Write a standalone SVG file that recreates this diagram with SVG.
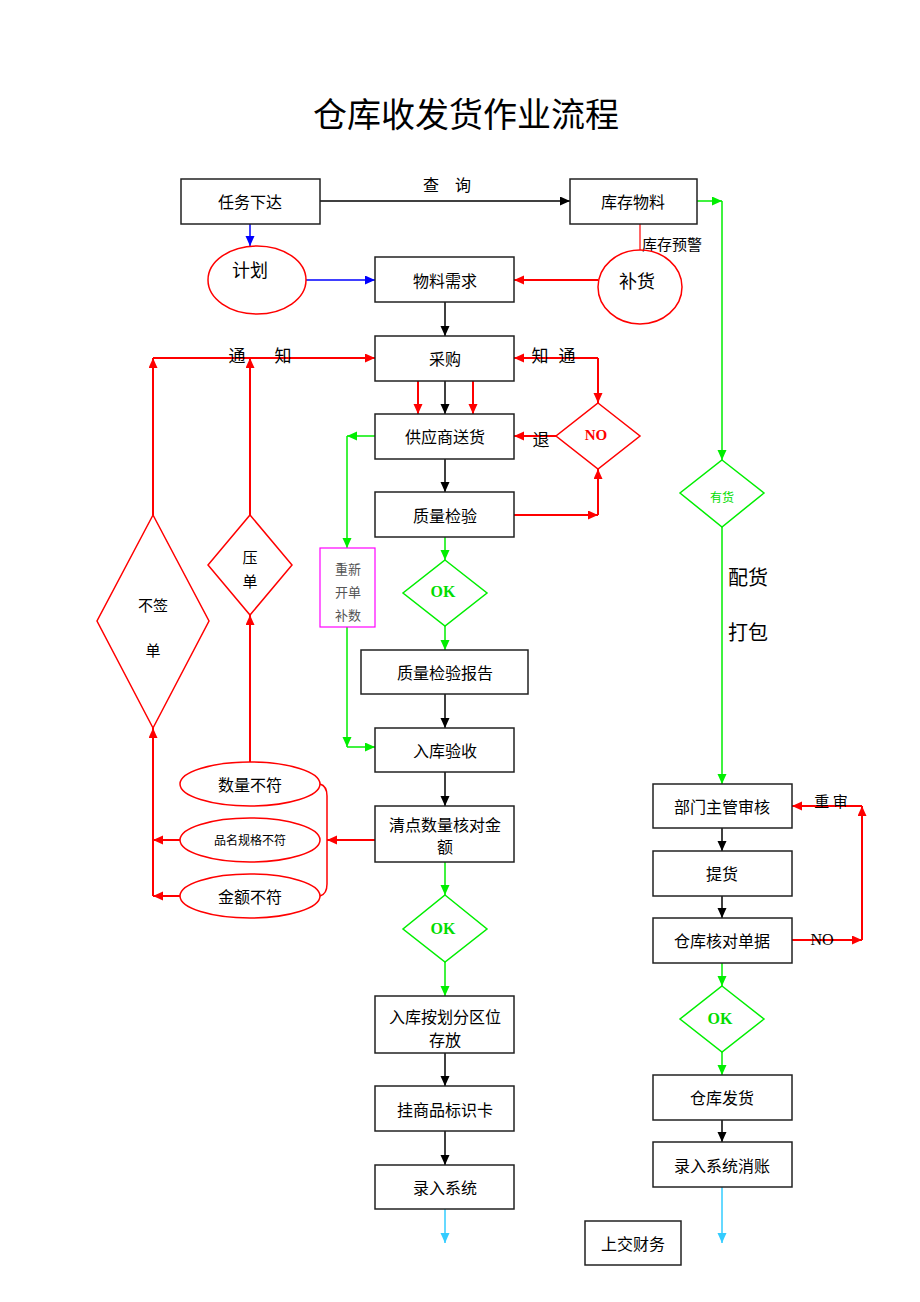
<svg xmlns="http://www.w3.org/2000/svg" width="920" height="1302" viewBox="0 0 920 1302">
<style>
text{font-family:"Noto Sans CJK SC","Noto Sans",sans-serif;fill:#000;text-anchor:middle;dominant-baseline:central}
.box{fill:#fff;stroke:#222;stroke-width:1.5}
.lbl{font-size:16px}
.rs{fill:none;stroke:#ff0000;stroke-width:1.5}
.gs{fill:none;stroke:#00ee00;stroke-width:1.5}
.k{fill:none;stroke:#000;stroke-width:1.5}
.r{fill:none;stroke:#ff0000;stroke-width:2}
.g{fill:none;stroke:#00ee00;stroke-width:1.5}
.b{fill:none;stroke:#0000ff;stroke-width:1.5}
.c{fill:none;stroke:#33ccff;stroke-width:1.5}
.ok{font-family:"Liberation Serif",serif;font-weight:bold;font-size:16px;fill:#00dd00}
</style>
<defs>
<marker id="ak" markerUnits="userSpaceOnUse" markerWidth="10" markerHeight="10" refX="10" refY="4.5" orient="auto"><path d="M0,0 L10,4.5 L0,9 z" fill="#000"/></marker>
<marker id="ar" markerUnits="userSpaceOnUse" markerWidth="10" markerHeight="10" refX="10" refY="4.5" orient="auto"><path d="M0,0 L10,4.5 L0,9 z" fill="#ff0000"/></marker>
<marker id="ag" markerUnits="userSpaceOnUse" markerWidth="10" markerHeight="10" refX="10" refY="4.5" orient="auto"><path d="M0,0 L10,4.5 L0,9 z" fill="#00ee00"/></marker>
<marker id="ab" markerUnits="userSpaceOnUse" markerWidth="10" markerHeight="10" refX="10" refY="4.5" orient="auto"><path d="M0,0 L10,4.5 L0,9 z" fill="#0000ff"/></marker>
<marker id="ac" markerUnits="userSpaceOnUse" markerWidth="10" markerHeight="10" refX="10" refY="4.5" orient="auto"><path d="M0,0 L10,4.5 L0,9 z" fill="#33ccff"/></marker>
</defs>
<rect width="920" height="1302" fill="#fff"/>
<text x="466" y="112" style="font-size:34px">仓库收发货作业流程</text>

<g id="connectors">
<path class="k" d="M320,201 H570" marker-end="url(#ak)"/>
<path class="k" d="M445,302 V336" marker-end="url(#ak)"/>
<path class="k" d="M445,381 V414" marker-end="url(#ak)"/>
<path class="k" d="M445,459 V492" marker-end="url(#ak)"/>
<path class="k" d="M445,694 V728" marker-end="url(#ak)"/>
<path class="k" d="M445,772 V806" marker-end="url(#ak)"/>
<path class="k" d="M445,1053 V1086" marker-end="url(#ak)"/>
<path class="k" d="M445,1131 V1165" marker-end="url(#ak)"/>
<path class="k" d="M722,828 V851" marker-end="url(#ak)"/>
<path class="k" d="M722,896 V918" marker-end="url(#ak)"/>
<path class="k" d="M722,1120 V1142" marker-end="url(#ak)"/>
<path class="b" d="M250,224 V246" marker-end="url(#ab)"/>
<path class="b" d="M306,280 H375" marker-end="url(#ab)"/>
<path class="r" d="M640,224 V250" style="stroke-width:1.2"/>
<path class="r" d="M598,280 H514" marker-end="url(#ar)"/>
<path class="r" d="M153,515 V358" marker-end="url(#ar)"/>
<path class="r" d="M153,358 H375" marker-end="url(#ar)"/>
<path class="r" d="M250,515 V358" marker-end="url(#ar)"/>
<path class="r" d="M598,358 H514" marker-end="url(#ar)"/>
<path class="r" d="M598,358 V403" marker-end="url(#ar)"/>
<path class="r" d="M556,436 H514" marker-end="url(#ar)"/>
<path class="r" d="M418,381 V414" marker-end="url(#ar)"/>
<path class="r" d="M473,381 V414" marker-end="url(#ar)"/>
<path class="r" d="M514,515 H598" marker-end="url(#ar)"/>
<path class="r" d="M598,515 V469" marker-end="url(#ar)"/>
<path class="r" d="M375,840 H327" marker-end="url(#ar)"/>
<path class="r" d="M180,840 H153" marker-end="url(#ar)"/>
<path class="r" d="M180,896 H153" marker-end="url(#ar)"/>
<path class="r" d="M153,896 V728" marker-end="url(#ar)"/>
<path class="r" d="M250,762 V615" marker-end="url(#ar)"/>
<path class="r" d="M320,784 Q327,786 327,796 V884 Q327,894 320,896" style="stroke-width:1.5"/>
<path class="r" d="M792,940 H862" marker-end="url(#ar)"/>
<path class="r" d="M862,940 V806" marker-end="url(#ar)"/>
<path class="r" d="M862,806 H792" marker-end="url(#ar)"/>
<path class="g" d="M697,201 H722" marker-end="url(#ag)"/>
<path class="g" d="M722,201 V460" marker-end="url(#ag)"/>
<path class="g" d="M722,527 V784" marker-end="url(#ag)"/>
<path class="g" d="M375,436 H347" marker-end="url(#ag)"/>
<path class="g" d="M347,436 V548" marker-end="url(#ag)"/>
<path class="g" d="M347,627 V747" marker-end="url(#ag)"/>
<path class="g" d="M347,747 H375" marker-end="url(#ag)"/>
<path class="g" d="M445,537 V560" marker-end="url(#ag)"/>
<path class="g" d="M445,626 V650" marker-end="url(#ag)"/>
<path class="g" d="M445,862 V895" marker-end="url(#ag)"/>
<path class="g" d="M445,962 V996" marker-end="url(#ag)"/>
<path class="g" d="M722,963 V986" marker-end="url(#ag)"/>
<path class="g" d="M722,1052 V1075" marker-end="url(#ag)"/>
<path class="c" d="M445,1209 V1243" marker-end="url(#ac)"/>
<path class="c" d="M722,1187 V1243" marker-end="url(#ac)"/>
<text x="447" y="184" style="font-size:16px">查　询</text>
<text x="672" y="243" style="font-size:15px">库存预警</text>
<text x="237" y="354" style="font-size:17px">通</text>
<text x="283" y="354" style="font-size:17px">知</text>
<text x="540" y="354" style="font-size:17px">知</text>
<text x="567" y="354" style="font-size:17px">通</text>
<text x="541" y="438" style="font-size:17px">退</text>
<text x="748" y="576" style="font-size:20px">配货</text>
<text x="748" y="631" style="font-size:20px">打包</text>
<text x="831" y="800" style="font-size:15px">重 审</text>
<text x="822" y="939" style="font-family:'Liberation Serif',serif;font-size:16px">NO</text>
</g>

<g id="n-renwu"><rect class="box" x="181" y="179" width="139" height="45"/><text class="lbl" x="250" y="201">任务下达</text></g>
<g id="n-kucun"><rect class="box" x="570" y="179" width="127" height="45"/><text class="lbl" x="633" y="201">库存物料</text></g>
<g id="n-jihua"><ellipse class="rs" cx="257" cy="280" rx="49" ry="34"/><text x="250" y="269" style="font-size:18px">计划</text></g>
<g id="n-buhuo"><ellipse class="rs" cx="640" cy="287" rx="42" ry="37"/><text x="637" y="280" style="font-size:18px">补货</text></g>
<g id="n-xuqiu"><rect class="box" x="375" y="257" width="139" height="45"/><text class="lbl" x="445" y="280">物料需求</text></g>
<g id="n-caigou"><rect class="box" x="375" y="336" width="139" height="45"/><text class="lbl" x="445" y="358">采购</text></g>
<g id="n-songhuo"><rect class="box" x="375" y="414" width="139" height="45"/><text class="lbl" x="445" y="436">供应商送货</text></g>
<g id="n-no1"><path class="rs" d="M598,403 L640,436 L598,469 L556,436 Z"/><text x="596" y="435" style="font-family:'Liberation Serif',serif;font-weight:bold;font-size:15px;fill:#ff0000">NO</text></g>
<g id="n-jianyan"><rect class="box" x="375" y="492" width="139" height="45"/><text class="lbl" x="445" y="515">质量检验</text></g>
<g id="n-chongxin"><rect x="320" y="548" width="55" height="79" fill="#fff" stroke="#ff00ff" stroke-width="1.2"/><text x="348" y="568" style="font-size:13px;fill:#555">重新</text><text x="348" y="591" style="font-size:13px;fill:#555">开单</text><text x="348" y="614" style="font-size:13px;fill:#555">补数</text></g>
<g id="n-ok1"><path class="gs" d="M445,560 L487,593 L445,626 L403,593 Z"/><text class="ok" x="443" y="591">OK</text></g>
<g id="n-baogao"><rect class="box" x="361" y="650" width="167" height="44"/><text class="lbl" x="445" y="672">质量检验报告</text></g>
<g id="n-yanshou"><rect class="box" x="375" y="728" width="139" height="44"/><text class="lbl" x="445" y="750">入库验收</text></g>
<g id="n-qingdian"><rect class="box" x="375" y="806" width="139" height="56"/><text class="lbl" x="445" y="824">清点数量核对金</text><text class="lbl" x="445" y="846">额</text></g>
<g id="n-shuliang"><ellipse class="rs" cx="250" cy="784" rx="70" ry="22"/><text class="lbl" x="250" y="784">数量不符</text></g>
<g id="n-pinming"><ellipse class="rs" cx="250" cy="840" rx="70" ry="22"/><text x="250" y="839" style="font-size:12px">品名规格不符</text></g>
<g id="n-jine"><ellipse class="rs" cx="250" cy="896" rx="70" ry="22"/><text class="lbl" x="250" y="896">金额不符</text></g>
<g id="n-buqian"><path class="rs" d="M153,515 L209,621 L153,728 L97,621 Z"/><text x="153" y="604" style="font-size:15px">不签</text><text x="153" y="649" style="font-size:15px">单</text></g>
<g id="n-yadan"><path class="rs" d="M250,515 L292,565 L250,615 L208,565 Z"/><text x="250" y="556" style="font-size:15px">压</text><text x="250" y="580" style="font-size:15px">单</text></g>
<g id="n-ok2"><path class="gs" d="M445,895 L487,929 L445,962 L403,929 Z"/><text class="ok" x="443" y="928">OK</text></g>
<g id="n-fenqu"><rect class="box" x="375" y="996" width="139" height="57"/><text class="lbl" x="445" y="1016">入库按划分区位</text><text class="lbl" x="445" y="1039">存放</text></g>
<g id="n-biaoshi"><rect class="box" x="375" y="1086" width="139" height="45"/><text class="lbl" x="445" y="1109">挂商品标识卡</text></g>
<g id="n-luru"><rect class="box" x="375" y="1165" width="139" height="44"/><text class="lbl" x="445" y="1187">录入系统</text></g>
<g id="n-youhuo"><path class="gs" d="M722,460 L764,493 L722,527 L680,493 Z"/><text x="722" y="496" style="font-size:12px;fill:#00dd00">有货</text></g>
<g id="n-shenhe"><rect class="box" x="653" y="784" width="139" height="44"/><text class="lbl" x="722" y="806">部门主管审核</text></g>
<g id="n-tihuo"><rect class="box" x="653" y="851" width="139" height="45"/><text class="lbl" x="722" y="873">提货</text></g>
<g id="n-hedui"><rect class="box" x="653" y="918" width="139" height="45"/><text class="lbl" x="722" y="940">仓库核对单据</text></g>
<g id="n-ok3"><path class="gs" d="M722,986 L764,1019 L722,1052 L680,1019 Z"/><text class="ok" x="720" y="1018">OK</text></g>
<g id="n-fahuo"><rect class="box" x="653" y="1075" width="139" height="45"/><text class="lbl" x="722" y="1097">仓库发货</text></g>
<g id="n-xiaozhang"><rect class="box" x="653" y="1142" width="139" height="45"/><text class="lbl" x="722" y="1165">录入系统消账</text></g>
<g id="n-caiwu"><rect class="box" x="585" y="1221" width="96" height="44"/><text class="lbl" x="633" y="1243">上交财务</text></g>
</svg>
